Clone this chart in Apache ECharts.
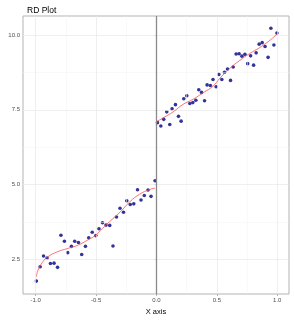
<!DOCTYPE html>
<html>
<head>
<meta charset="utf-8">
<script src="https://cdn.jsdelivr.net/npm/echarts@6/dist/echarts.min.js"></script>
<style>
  html, body { margin: 0; padding: 0; background: #fff; }
  #chart { width: 294px; height: 320px; }
</style>
</head>
<body>
<div id="chart"></div>
<script>
// 左侧 (x < 0) 散点
var leftX = [-0.994, -0.963, -0.935, -0.906, -0.878, -0.848, -0.819, -0.791, -0.762, -0.735,
  -0.704, -0.677, -0.646, -0.619, -0.588, -0.561, -0.532, -0.502, -0.476, -0.447,
  -0.418, -0.387, -0.360, -0.331, -0.302, -0.273, -0.246, -0.217, -0.188, -0.157,
  -0.128, -0.101, -0.070, -0.045, -0.012]
var leftY = [1.78, 2.26, 2.62, 2.55, 2.37, 2.38, 2.24, 3.31, 3.11, 2.73,
  2.94, 3.11, 3.07, 2.67, 2.94, 3.23, 3.41, 3.30, 3.53, 3.73,
  3.65, 3.64, 2.95, 3.92, 4.21, 4.08, 4.46, 4.34, 4.36, 4.83,
  4.49, 4.64, 4.82, 4.61, 5.13]

// 右侧 (x >= 0) 散点
var rightX = [0.008, 0.036, 0.060, 0.085, 0.110, 0.129, 0.157, 0.182, 0.204, 0.226,
  0.251, 0.276, 0.301, 0.326, 0.350, 0.373, 0.398, 0.419, 0.446, 0.468,
  0.494, 0.516, 0.541, 0.563, 0.588, 0.613, 0.635, 0.659, 0.684, 0.707,
  0.732, 0.755, 0.779, 0.804, 0.825, 0.850, 0.875, 0.899, 0.924, 0.947,
  0.972, 0.997]
var rightY = [7.07, 6.96, 7.18, 7.43, 7.01, 7.53, 7.67, 7.28, 7.12, 7.87,
  7.97, 7.71, 7.74, 7.82, 8.17, 8.08, 7.80, 8.33, 8.31, 8.51,
  8.27, 8.68, 8.51, 8.75, 8.86, 8.48, 8.93, 9.36, 9.37, 9.29,
  9.35, 9.04, 9.30, 8.99, 9.40, 9.69, 9.74, 9.61, 9.25, 10.22,
  9.66, 10.06]

// 拟合曲线 (红线)
var fitLeftX = [-0.994, -0.98, -0.94, -0.90, -0.82, -0.735, -0.65, -0.57, -0.50, -0.47,
  -0.39, -0.30, -0.22, -0.14, -0.055, -0.012]
var fitLeftY = [1.93, 2.15, 2.43, 2.59, 2.76, 2.87, 2.98, 3.15, 3.32, 3.45,
  3.76, 4.09, 4.43, 4.68, 4.84, 4.88]
var fitRightX = [0.008, 0.055, 0.138, 0.22, 0.303, 0.386, 0.469, 0.524, 0.607, 0.69,
  0.773, 0.856, 0.939, 0.997]
var fitRightY = [7.12, 7.23, 7.43, 7.68, 7.85, 8.07, 8.29, 8.55, 8.88, 9.15,
  9.38, 9.58, 9.82, 10.02]

// 刻度
var xTicks = [-1.0, -0.5, 0.0, 0.5, 1.0]
var xMinor = [-0.75, -0.25, 0.25, 0.75]
var yTicks = [2.5, 5.0, 7.5, 10.0]
var yMinor = [3.75, 6.25, 8.75]
var cutoff = 0

var FONT = 'Liberation Sans'

function zip(xs, ys) {
  return xs.map(function (x, i) { return [x, ys[i]] })
}

// 网格线用 markLine 画
function gridLines(values, key, color, width) {
  return {
    silent: true,
    symbol: ['none', 'none'],
    label: { show: false },
    animation: false,
    lineStyle: { type: 'solid', color: color, width: width },
    data: values.map(function (v) { var o = {}; o[key] = v; return o })
  }
}

var chart = echarts.init(document.getElementById('chart'))

var option = {
  animation: false,
  title: {
    text: 'RD Plot',
    left: 22,
    top: 1,
    textStyle: { fontFamily: FONT, fontSize: 8.5, fontWeight: 'normal', color: '#000' }
  },
  grid: {
    left: 23, right: 5, top: 16, bottom: 26,
    outerBoundsMode: 'none',
    containLabel: false,
    show: true, borderColor: '#b3b3b3', borderWidth: 1, backgroundColor: '#fff'
  },
  xAxis: {
    type: 'value',
    min: -1.105,
    max: 1.097,
    name: 'X axis',
    nameLocation: 'middle',
    nameGap: 10,
    nameTextStyle: { fontFamily: FONT, fontSize: 7.5, color: '#000' },
    axisLine: { show: false },
    axisTick: { show: true, length: 2, customValues: xTicks, lineStyle: { color: '#b3b3b3' } },
    axisLabel: {
      customValues: xTicks, margin: 3,
      fontFamily: FONT, fontSize: 6, color: '#4d4d4d',
      formatter: function (v) { return v.toFixed(1) }
    },
    splitLine: { show: false }
  },
  yAxis: {
    type: 'value',
    min: 1.35,
    max: 10.63,
    name: 'Y axis',
    nameLocation: 'middle',
    nameGap: 19,
    nameTextStyle: { fontFamily: FONT, fontSize: 7.5, color: '#000' },
    axisLine: { show: false },
    axisTick: { show: true, length: 2, customValues: yTicks, lineStyle: { color: '#b3b3b3' } },
    axisLabel: {
      customValues: yTicks, margin: 3,
      fontFamily: FONT, fontSize: 6, color: '#4d4d4d',
      formatter: function (v) { return v.toFixed(1) }
    },
    splitLine: { show: false }
  },
  series: [
    {
      name: 'minorGridX', type: 'line', data: [], z: 1,
      markLine: gridLines(xMinor, 'xAxis', '#f3f3f3', 0.5)
    },
    {
      name: 'minorGridY', type: 'line', data: [], z: 1,
      markLine: gridLines(yMinor, 'yAxis', '#f3f3f3', 0.5)
    },
    {
      name: 'majorGridX', type: 'line', data: [], z: 1,
      markLine: gridLines(xTicks, 'xAxis', '#e8e8e8', 0.7)
    },
    {
      name: 'majorGridY', type: 'line', data: [], z: 1,
      markLine: gridLines(yTicks, 'yAxis', '#e8e8e8', 0.7)
    },
    {
      name: 'cutoff', type: 'line', data: [], z: 2,
      markLine: gridLines([cutoff], 'xAxis', '#8a8a8a', 1.3)
    },
    {
      name: 'left', type: 'scatter', data: zip(leftX, leftY), z: 4,
      symbolSize: 3.6, itemStyle: { color: '#000080' }
    },
    {
      name: 'right', type: 'scatter', data: zip(rightX, rightY), z: 4,
      symbolSize: 3.6, itemStyle: { color: '#000080' }
    },
    {
      name: 'fitLeft', type: 'line', data: zip(fitLeftX, fitLeftY), z: 5,
      smooth: true, showSymbol: false,
      lineStyle: { color: '#ff4d4d', width: 0.8 }
    },
    {
      name: 'fitRight', type: 'line', data: zip(fitRightX, fitRightY), z: 5,
      smooth: true, showSymbol: false,
      lineStyle: { color: '#ff4d4d', width: 0.8 }
    }
  ]
}

chart.setOption(option)
</script>
</body>
</html>
